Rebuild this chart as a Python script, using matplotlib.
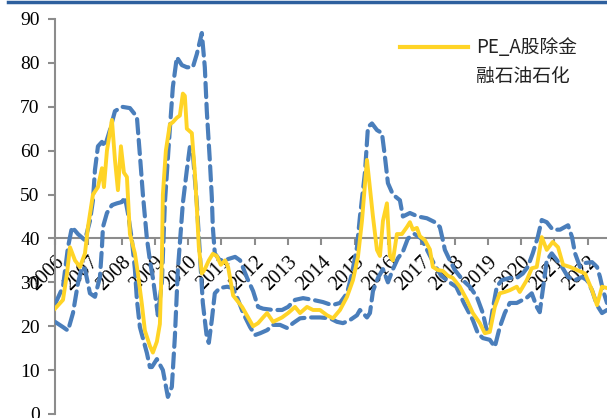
import matplotlib
matplotlib.use("Agg")
import matplotlib.pyplot as plt
from matplotlib.lines import Line2D

# === data (decimal year, value) ===
pe_t = [2006.00, 2006.24, 2006.36, 2006.45, 2006.60, 2006.75, 2006.90, 2006.99, 2007.14, 2007.29,
        2007.41, 2007.47, 2007.56, 2007.71, 2007.80, 2007.89, 2007.98, 2008.07, 2008.16, 2008.25,
        2008.40, 2008.49, 2008.61, 2008.70, 2008.85, 2008.94, 2009.06, 2009.15, 2009.21, 2009.24,
        2009.33, 2009.45, 2009.54, 2009.66, 2009.75, 2009.84, 2009.90, 2009.96, 2010.11, 2010.20,
        2010.26, 2010.32, 2010.41, 2010.50, 2010.62, 2010.74, 2010.86, 2010.98, 2011.11, 2011.20,
        2011.35, 2011.62, 2011.80, 2011.95, 2012.10, 2012.25, 2012.37, 2012.55, 2012.82, 2013.00,
        2013.21, 2013.36, 2013.57, 2013.75, 2013.96, 2014.17, 2014.35, 2014.56, 2014.77, 2014.95,
        2015.10, 2015.22, 2015.37, 2015.55, 2015.67, 2015.76, 2015.85, 2015.97, 2016.06, 2016.15,
        2016.27, 2016.42, 2016.57, 2016.66, 2016.75, 2016.87, 2016.96, 2017.11, 2017.26, 2017.35,
        2017.50, 2017.65, 2017.80, 2017.95, 2018.16, 2018.37, 2018.55, 2018.76, 2018.91, 2019.06,
        2019.21, 2019.36, 2019.51, 2019.66, 2019.87, 2019.96, 2020.17, 2020.32, 2020.47, 2020.62,
        2020.77, 2020.95, 2021.11, 2021.26, 2021.47, 2021.68, 2021.92, 2022.13, 2022.28, 2022.43,
        2022.58]
pe_v = [24, 26, 32, 38, 35, 33.5, 36.6, 42.6, 50, 51.7,
        56, 51.7, 60, 67, 58, 51, 61, 55, 54, 41,
        36.6, 32, 25, 19, 15.5, 14, 16.5, 20.5, 35, 50,
        60, 66, 66.5, 67.5, 68, 73, 72.5, 65, 64, 55,
        47, 38, 32, 33, 35, 36.5, 36, 34, 35, 33.5,
        27, 24.4, 22, 20, 20.7, 22, 23, 21, 22, 23,
        24.4, 23, 24.4, 23.7, 23.7, 22.5, 21.8, 23.7, 26.7, 30.5,
        35.8, 44, 57.9, 45, 37.4, 36, 44, 48, 36, 35,
        41, 41, 42.6, 43.7, 42, 42.4, 40.5, 39.6, 37.5, 33.5,
        32.8, 32.6, 31.5, 31, 29, 26, 23, 20.7, 18.4, 18.7,
        24.4, 27.5, 27.8, 28.2, 29, 27.8, 30.5, 33.2, 33.5, 40.3,
        37.4, 39.2, 38, 34, 33.5, 32.8, 32, 28.2, 24.8, 29,
        28.7]

hi_t = [2006.00, 2006.24, 2006.39, 2006.51, 2006.69, 2006.90, 2007.05, 2007.14, 2007.20, 2007.29,
        2007.41, 2007.50, 2007.65, 2007.80, 2008.01, 2008.25, 2008.46, 2008.55, 2008.64, 2008.76,
        2008.85, 2008.94, 2009.09, 2009.21, 2009.30, 2009.45, 2009.54, 2009.66, 2009.81, 2009.96,
        2010.14, 2010.26, 2010.41, 2010.50, 2010.56, 2010.65, 2010.71, 2010.74, 2010.80, 2010.95,
        2011.20, 2011.41, 2011.56, 2011.77, 2011.95, 2012.10, 2012.25, 2012.55, 2012.82, 2013.00,
        2013.21, 2013.45, 2013.75, 2014.05, 2014.32, 2014.56, 2014.77, 2014.92, 2015.07, 2015.16,
        2015.31, 2015.40, 2015.52, 2015.67, 2015.82, 2015.91, 2016.00, 2016.15, 2016.36, 2016.45,
        2016.66, 2016.90, 2017.17, 2017.41, 2017.56, 2017.65, 2017.71, 2017.86, 2018.01, 2018.25,
        2018.46, 2018.67, 2018.85, 2018.97, 2019.06, 2019.15, 2019.27, 2019.42, 2019.66, 2019.87,
        2020.05, 2020.20, 2020.35, 2020.50, 2020.62, 2020.77, 2020.95, 2021.17, 2021.41, 2021.53,
        2021.62, 2021.77, 2021.92, 2022.13, 2022.28, 2022.37, 2022.46, 2022.58]
hi_v = [25, 29, 38, 42.6, 41, 39.6, 44, 48.7, 55.6, 61,
        62, 61, 64.7, 69, 70, 69.7, 67.7, 59, 50, 40,
        35, 31, 22.5, 30, 48, 65, 74.5, 81.3, 79.5, 79,
        79, 82, 86.8, 79, 69, 57.8, 49.4, 42.6, 36.6, 35,
        35.3, 35.8, 35, 31, 28, 24.4, 24, 23.7, 23.7, 24.4,
        26, 26.4, 26, 25.5, 24.8, 25.3, 27.5, 32, 38, 45,
        55, 65.4, 66.2, 64.7, 64, 58.6, 52.6, 50, 48.7, 45,
        45.8, 45, 44.6, 43.7, 42.6, 39.6, 37.4, 35, 32.8, 30.5,
        29, 26.7, 23, 19, 19.5, 24, 29, 30.5, 31, 31,
        32, 33.5, 36.6, 40.3, 44.2, 43.7, 42, 42, 43, 40.3,
        36.6, 33.5, 34.4, 34.6, 33.5, 31.2, 28.2, 25.3]

lo_t = [2006.00, 2006.24, 2006.39, 2006.54, 2006.69, 2006.81, 2006.90, 2007.05, 2007.20, 2007.35,
        2007.41, 2007.44, 2007.56, 2007.71, 2007.86, 2008.01, 2008.10, 2008.19, 2008.31, 2008.40,
        2008.46, 2008.55, 2008.76, 2008.85, 2008.91, 2009.06, 2009.24, 2009.39, 2009.51, 2009.60,
        2009.69, 2009.84, 2009.96, 2010.05, 2010.14, 2010.26, 2010.35, 2010.44, 2010.56, 2010.62,
        2010.71, 2010.80, 2010.95, 2011.17, 2011.35, 2011.50, 2011.65, 2011.86, 2012.01, 2012.16,
        2012.37, 2012.55, 2012.76, 2012.97, 2013.15, 2013.36, 2013.66, 2013.96, 2014.26, 2014.47,
        2014.65, 2014.86, 2015.07, 2015.16, 2015.37, 2015.46, 2015.55, 2015.70, 2015.85, 2016.00,
        2016.15, 2016.30, 2016.45, 2016.60, 2016.80, 2017.00, 2017.20, 2017.40, 2017.60, 2017.85,
        2018.05, 2018.30, 2018.55, 2018.70, 2018.85, 2019.06, 2019.21, 2019.36, 2019.51, 2019.66,
        2019.87, 2020.17, 2020.32, 2020.47, 2020.56, 2020.65, 2020.77, 2020.92, 2021.08, 2021.23,
        2021.41, 2021.62, 2021.83, 2021.98, 2022.13, 2022.28, 2022.43, 2022.58]
lo_v = [21, 19.8, 19, 23, 29.8, 33.5, 33, 27.5, 26.7, 31.2,
        38, 42.6, 45.8, 47.6, 48, 48.3, 49.4, 45.8, 39.6, 33,
        26, 19.8, 13.9, 10.7, 10.7, 12.5, 10, 3.9, 6.2, 17.5,
        32.8, 48, 55.6, 60.8, 59.4, 48, 36.6, 25.3, 17.5, 16.2,
        21.4, 27.5, 28.7, 29, 28.7, 26, 23, 19.8, 18, 18.4,
        19.1, 20.3, 20.3, 19.6, 20.7, 21.8, 22, 22, 21.8, 21,
        20.7, 21.4, 22.5, 23.7, 22, 23, 28, 31, 33, 30,
        33, 35.5, 37, 40, 41, 40, 37, 34, 31.5, 30,
        29, 25, 21.4, 18.4, 17.3, 16.9, 15.3, 19.8, 23, 25.3,
        25.3, 26.5, 27.5, 24.4, 23.2, 28.2, 35, 36.6, 35, 33.5,
        31.2, 30.5, 31.2, 30.5, 28.2, 24.8, 23, 23.7]

years = list(range(2006, 2023))
yticks = list(range(0, 91, 10))

yellow = '#FFD426'
blue = '#4A7EBB'
grey = '#8C8C8C'

fig = plt.figure(figsize=(6.07, 4.18), dpi=100)
ax = fig.add_axes([55 / 607, 4 / 418, 552 / 607, 395 / 418])

ax.plot(hi_t, hi_v, color=blue, lw=3, ls=(0, (3.4, 1.6)), dash_capstyle='round', zorder=3)
ax.plot(lo_t, lo_v, color=blue, lw=3, ls=(0, (3.4, 1.6)), dash_capstyle='round', zorder=3)
ax.plot(pe_t, pe_v, color=yellow, lw=2.8, zorder=4)

ax.set_xlim(2006, 2022.58)
ax.set_ylim(0, 90)

# x axis crosses at 40
ax.spines['bottom'].set_position(('data', 40))
ax.spines['bottom'].set_color(grey)
ax.spines['bottom'].set_linewidth(1.5)
ax.spines['bottom'].set_zorder(2)
ax.spines['left'].set_color(grey)
ax.spines['left'].set_linewidth(1.5)
ax.spines['top'].set_visible(False)
ax.spines['right'].set_visible(False)

ax.set_xticks(years)
ax.set_xticklabels([str(y) for y in years], rotation=45, ha='right', va='top',
                   rotation_mode='anchor', family='Liberation Serif', fontsize=14.5)
ax.tick_params(axis='x', direction='out', length=5, width=1.5, color=grey, pad=5)

ax.set_yticks(yticks)
ax.set_yticklabels([str(v) for v in yticks], family='Liberation Serif', fontsize=14)
ax.tick_params(axis='y', direction='out', length=5, width=1.5, color=grey, pad=6)
ax.patch.set_visible(False)

# top rule
fig.add_artist(Line2D([8 / 607, 1.0], [1 - 2 / 418] * 2, color='#2E609E', lw=2.5))

# legend
fig.add_artist(Line2D([400 / 607, 468 / 607], [1 - 47 / 418] * 2, color=yellow, lw=3))
fig.text(476 / 607, 1 - 47 / 418, 'PE_A股除金', va='center', ha='left',
         family=['Noto Sans CJK SC', 'DejaVu Sans'], fontsize=13.5, color='#222222')
fig.text(476 / 607, 1 - 76 / 418, '融石油石化', va='center', ha='left',
         family=['Noto Sans CJK SC', 'DejaVu Sans'], fontsize=13.5, color='#222222')

fig.savefig('out.png', dpi=100)
